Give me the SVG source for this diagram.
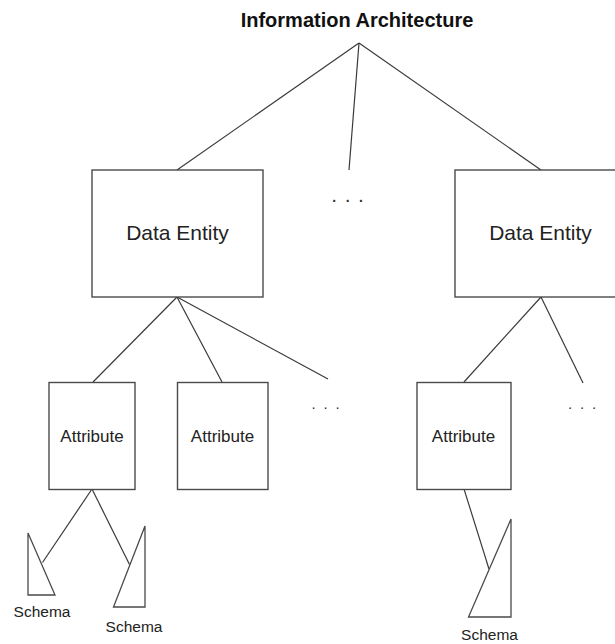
<svg xmlns="http://www.w3.org/2000/svg" width="615" height="644" viewBox="0 0 615 644">
  <style>
    .box { fill: #ffffff; stroke: #4a4a4a; stroke-width: 1.4; }
    .tri { fill: #ffffff; stroke: #4a4a4a; stroke-width: 1.3; }
    .link { fill: none; stroke: #3a3a3a; stroke-width: 1.2; }
    .lbl { font-family: "Liberation Sans", Arial, sans-serif; fill: #222222; text-anchor: middle; }
    .title { font-family: "Liberation Sans", Arial, sans-serif; font-weight: bold; font-size: 20px; fill: #111111; text-anchor: middle; }
    .ent { font-size: 21px; }
    .attr { font-size: 17px; }
    .sch { font-size: 15.5px; }
    .more { font-family: "Liberation Sans", Arial, sans-serif; fill: #333333; text-anchor: middle; }
  </style>
  <rect width="615" height="644" fill="#ffffff"/>

  <!-- connectors -->
  <g id="connectors">
    <line class="link" x1="359" y1="43" x2="177" y2="170"/>
    <line class="link" x1="359" y1="43" x2="349" y2="170"/>
    <line class="link" x1="359" y1="43" x2="541" y2="170"/>
    <line class="link" x1="177" y1="297" x2="93" y2="382"/>
    <line class="link" x1="177" y1="297" x2="222" y2="382"/>
    <line class="link" x1="177" y1="297" x2="328" y2="379"/>
    <line class="link" x1="541" y1="297" x2="464" y2="382"/>
    <line class="link" x1="541" y1="297" x2="583" y2="383"/>
    <line class="link" x1="92" y1="489" x2="42.5" y2="562.5"/>
    <line class="link" x1="92" y1="489" x2="129.5" y2="564.5"/>
    <line class="link" x1="464" y1="489" x2="489" y2="569"/>
  </g>

  <!-- root -->
  <g id="information-architecture">
    <text class="title" x="357" y="27">Information Architecture</text>
  </g>

  <!-- entities -->
  <g id="data-entity-1">
    <rect class="box" x="92" y="170" width="171" height="127"/>
    <text class="lbl ent" x="177.5" y="240">Data Entity</text>
  </g>
  <g id="data-entity-2">
    <rect class="box" x="455" y="170" width="171" height="127"/>
    <text class="lbl ent" x="540.5" y="240">Data Entity</text>
  </g>
  <g id="more-entities">
    <text class="more" x="348" y="202" font-size="21" letter-spacing="0.9">. . .</text>
  </g>

  <!-- attributes -->
  <g id="attribute-1">
    <rect class="box" x="49" y="382.5" width="86" height="107"/>
    <text class="lbl attr" x="92" y="442">Attribute</text>
  </g>
  <g id="attribute-2">
    <rect class="box" x="177.5" y="382.5" width="90.5" height="107"/>
    <text class="lbl attr" x="222.5" y="442">Attribute</text>
  </g>
  <g id="more-attributes-1">
    <text class="more" x="326.5" y="409" font-size="15" letter-spacing="1.8">. . .</text>
  </g>
  <g id="attribute-3">
    <rect class="box" x="417" y="382.5" width="94" height="107"/>
    <text class="lbl attr" x="463.5" y="442">Attribute</text>
  </g>
  <g id="more-attributes-2">
    <text class="more" x="583" y="409" font-size="15" letter-spacing="1.8">. . .</text>
  </g>

  <!-- schemas -->
  <g id="schema-1">
    <polygon class="tri" points="28,533 28,595 55,595"/>
    <text class="lbl sch" x="42" y="617">Schema</text>
  </g>
  <g id="schema-2">
    <polygon class="tri" points="145,526 145,607 113.5,607"/>
    <text class="lbl sch" x="134" y="632">Schema</text>
  </g>
  <g id="schema-3">
    <polygon class="tri" points="511,519 511,617 468.5,617"/>
    <text class="lbl sch" x="489.5" y="640">Schema</text>
  </g>
</svg>
